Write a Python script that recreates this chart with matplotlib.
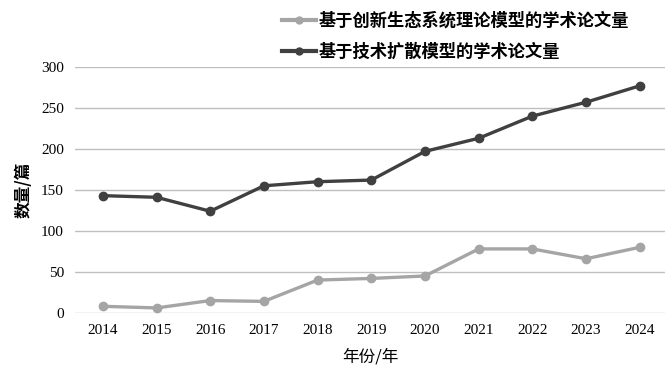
import matplotlib.pyplot as plt
from matplotlib.lines import Line2D

years = [2014, 2015, 2016, 2017, 2018, 2019, 2020, 2021, 2022, 2023, 2024]
eco_papers = [8, 6, 15, 14, 40, 42, 45, 78, 78, 66, 80]
diff_papers = [143, 141, 124, 155, 160, 162, 197, 213, 240, 257, 277]
eco_label = '基于创新生态系统理论模型的学术论文量'
diff_label = '基于技术扩散模型的学术论文量'

cjk = ['Noto Sans CJK SC', 'DejaVu Sans']
serif = 'Liberation Serif'

fig = plt.figure(figsize=(6.69, 3.72), dpi=100)
ax = fig.add_axes([0.112, 0.159, 0.882, 0.661])

ax.plot(years, eco_papers, color='#a5a5a5', lw=2.4, marker='o', ms=6, zorder=3)
ax.plot(years, diff_papers, color='#404040', lw=2.4, marker='o', ms=6, zorder=3)

ax.set_xlim(2013.48, 2024.47)
ax.set_ylim(0, 300)
ax.set_yticks(range(0, 301, 50))
ax.set_xticks(years)
ax.grid(axis='y', color='#bfbfbf', lw=1)
for s in ax.spines.values():
    s.set_visible(False)
ax.tick_params(length=0, labelsize=11, pad=8)
for lab in ax.get_xticklabels() + ax.get_yticklabels():
    lab.set_fontfamily(serif)

ax.set_xlabel('年份/年', family=cjk, fontsize=12, labelpad=8)
ax.set_ylabel('数量/篇', family=cjk, fontsize=12, labelpad=6, fontweight='bold')

# legend sits above the plot, left edge near the middle
handles = [
    Line2D([], [], color='#a5a5a5', lw=3, marker='o', ms=5),
    Line2D([], [], color='#404040', lw=3, marker='o', ms=5),
]
fig.legend(handles, [eco_label, diff_label], loc='upper left',
           bbox_to_anchor=(0.398, 1.01), frameon=False,
           prop={'family': cjk, 'size': 12.4, 'weight': 'bold'},
           handlelength=2.0, handletextpad=0.15, labelspacing=0.75)

fig.savefig('out.png', dpi=100)
